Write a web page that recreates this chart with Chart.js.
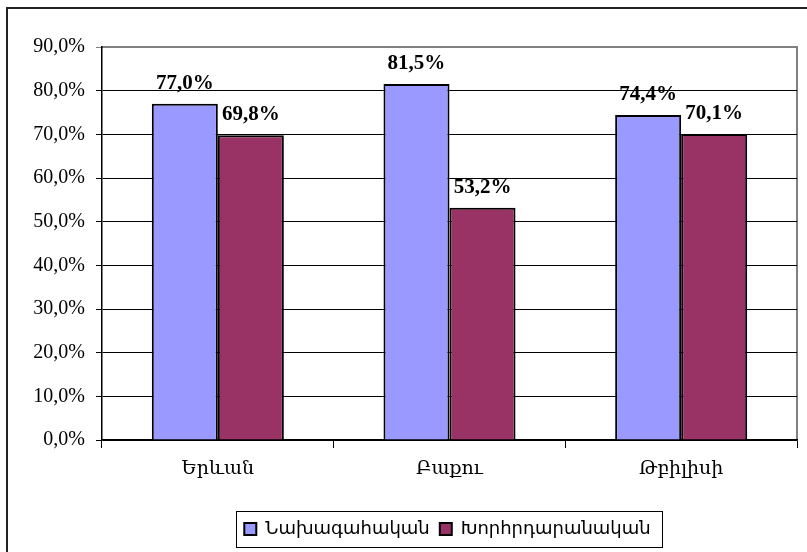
<!DOCTYPE html>
<html><head><meta charset="utf-8">
<script src="https://cdn.jsdelivr.net/npm/chart.js@4/dist/chart.umd.min.js"></script>
<style>html,body{margin:0;padding:0;background:#fff}#w{width:807px;height:552px}</style>
</head><body><div id="w"><canvas id="c" width="807" height="552"></canvas></div>
<script>
const categories = ["Երևան", "Բաքու", "Թբիլիսի"];
const seriesNames = ["Նախագահական", "Խորհրդարանական"];
const presidential = [77.0, 81.5, 74.4];
const parliamentary = [69.8, 53.2, 70.1];
const yTicks = [0, 10, 20, 30, 40, 50, 60, 70, 80, 90];

const fmt = v => v.toFixed(1).replace('.', ',') + '%';
const serif = '"Liberation Serif", "DejaVu Serif", serif';

const frame = {
  id: 'frame',
  afterLayout(chart) {
    chart.legend.left += 49;
    chart.legend.right += 49;
  },
  beforeDraw(chart) {
    const ctx = chart.ctx;
    ctx.save();
    ctx.fillStyle = '#fff';
    ctx.fillRect(0, 0, chart.width, chart.height);
    ctx.strokeStyle = '#222';
    ctx.lineWidth = 2;
    ctx.strokeRect(7, 8, chart.width + 10, chart.height + 10);
    const a = chart.chartArea;
    ctx.strokeStyle = '#808080';
    ctx.lineWidth = 2;
    ctx.beginPath();
    ctx.moveTo(a.left, a.top); ctx.lineTo(a.right, a.top); ctx.lineTo(a.right, a.bottom);
    ctx.stroke();
    ctx.restore();
  },
  afterDraw(chart) {
    const ctx = chart.ctx;
    ctx.save();
    ctx.font = 'bold 21px ' + serif;
    ctx.fillStyle = '#000';
    ctx.textAlign = 'center';
    ctx.textBaseline = 'alphabetic';
    chart.data.datasets.forEach((ds, di) => {
      chart.getDatasetMeta(di).data.forEach((bar, i) => {
        ctx.fillText(fmt(ds.data[i]), bar.x, bar.y - 15);
      });
    });
    const hb = chart.legend.legendHitBoxes;
    if (hb && hb.length) {
      const l = Math.min(...hb.map(h => h.left)) - 8;
      const r = Math.max(...hb.map(h => h.left + h.width)) + 12;
      const t = Math.min(...hb.map(h => h.top)) - 9;
      const b = Math.max(...hb.map(h => h.top + h.height)) + 9;
      ctx.strokeStyle = '#000';
      ctx.lineWidth = 1;
      ctx.strokeRect(Math.round(l) + 0.5, Math.round(t) + 0.5, Math.round(r - l), Math.round(b - t));
    }
    ctx.restore();
  }
};

new Chart(document.getElementById('c'), {
  type: 'bar',
  data: {
    labels: categories,
    datasets: [
      { label: seriesNames[0], data: presidential, backgroundColor: '#9999FF', borderColor: '#000', borderWidth: 2, borderSkipped: 'bottom' },
      { label: seriesNames[1], data: parliamentary, backgroundColor: '#993366', borderColor: '#000', borderWidth: 2, borderSkipped: 'bottom' }
    ]
  },
  options: {
    responsive: false,
    animation: false,
    events: [],
    layout: { padding: { left: 0, right: 10, top: 47, bottom: 4 } },
    datasets: { bar: { categoryPercentage: 0.57, barPercentage: 1.0 } },
    plugins: {
      tooltip: { enabled: false },
      legend: {
        position: 'bottom',
        labels: {
          font: { family: '"DejaVu Sans", sans-serif', size: 18 },
          color: '#000',
          boxWidth: 12, boxHeight: 12,
          padding: 10,
          generateLabels(chart) {
            return chart.data.datasets.map((d, i) => ({
              text: d.label, fillStyle: d.backgroundColor, strokeStyle: '#000', lineWidth: 2, datasetIndex: i, hidden: false
            }));
          }
        }
      }
    },
    scales: {
      x: {
        afterFit(s) { s.height = 70; },
        grid: { offset: true, drawOnChartArea: false, drawTicks: true, tickLength: 8, color: '#000' },
        border: { color: '#000', width: 1.5 },
        ticks: { color: '#000', font: { family: serif, size: 19 }, padding: 10 }
      },
      y: {
        min: 0, max: 90,
        afterFit(s) { s.width = 102; },
        afterBuildTicks(s) { s.ticks = yTicks.map(v => ({ value: v })); },
        grid: {
          color: ctx => (ctx.tick && ctx.tick.value === 90) ? '#808080' : '#000',
          lineWidth: 1, tickLength: 6, drawTicks: true
        },
        border: { color: '#000', width: 1.5 },
        ticks: { color: '#000', font: { family: serif, size: 20 }, padding: 11, callback: v => fmt(v) }
      }
    }
  },
  plugins: [frame]
});
</script>
</body></html>
